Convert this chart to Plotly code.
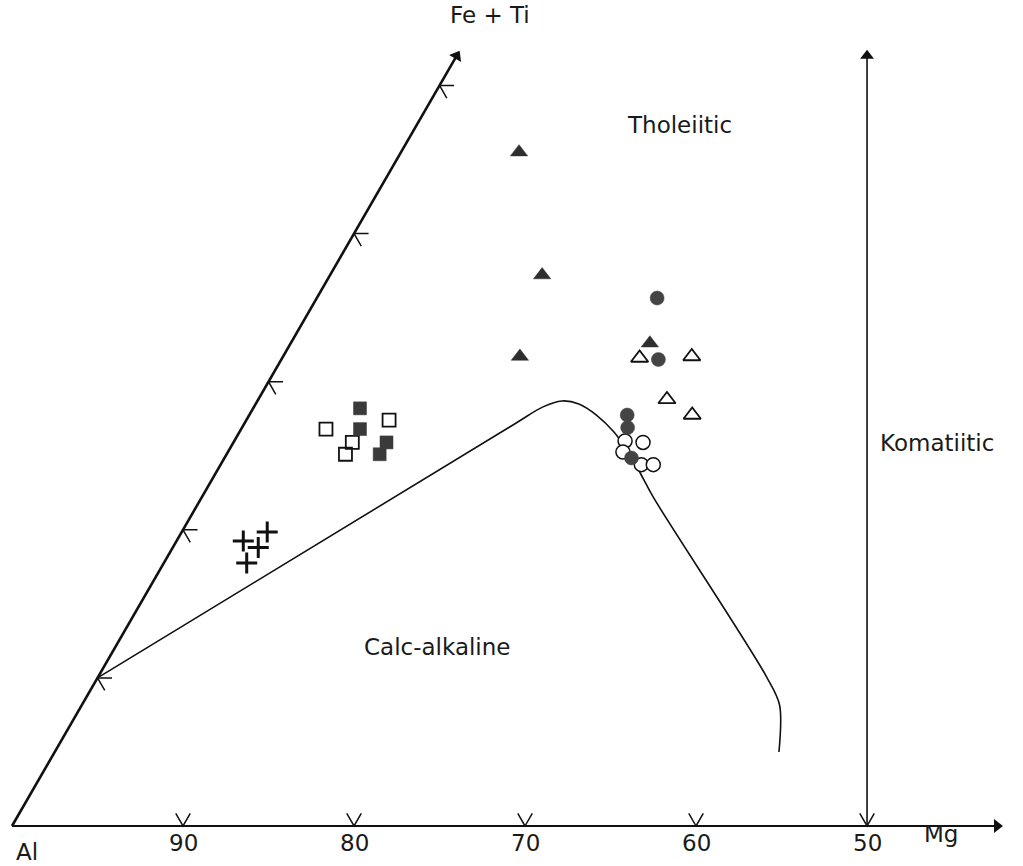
import numpy as np
import plotly.graph_objects as go

# ---- data (cation %, Al = 100 - FeTi - Mg) ----
curve_feti = [10.0, 27.13, 28.3, 28.7, 28.5, 27.75, 26.6, 25.3, 23.8, 22.2, 10.06, 8.17, 5.0]
curve_mg = [0.0, 15.8, 16.9, 17.8, 18.9, 20.3, 21.9, 23.35, 24.85, 26.4, 39.1, 40.8, 42.35]

tri_fill_feti = [45.5, 37.2, 31.7, 32.6]
tri_fill_mg = [6.9, 12.4, 13.85, 21.0]

tri_open_feti = [31.6, 31.7, 28.8, 27.75]
tri_open_mg = [20.9, 23.9, 23.9, 25.9]

circ_fill_feti = [35.65, 31.5, 27.75, 26.9, 24.85]
circ_fill_mg = [19.9, 22.05, 22.1, 22.55, 23.8]

circ_open_feti = [26.0, 25.9, 25.25, 24.4, 24.4]
circ_open_mg = [22.85, 23.95, 23.1, 24.6, 25.3]

sq_fill_feti = [28.2, 26.8, 25.9, 25.1]
sq_fill_mg = [6.25, 6.95, 8.95, 8.95]

sq_open_feti = [27.4, 26.8, 25.9, 25.1]
sq_open_mg = [8.35, 4.96, 6.95, 6.95]

cross_feti = [19.85, 19.25, 18.8, 17.75]
cross_mg = [5.0, 3.9, 5.0, 4.85]

base_ticks = [90, 80, 70, 60, 50]       # Al values on the Al-Mg side
side_ticks = [10, 20, 30, 40, 50]       # Fe+Ti values on the Al-(Fe+Ti) side

S3 = np.sqrt(3) / 2


def tern(feti, mg):
    feti = np.asarray(feti, float)
    mg = np.asarray(mg, float)
    return mg + feti / 2, feti * S3


fig = go.Figure()
INK = "#111111"


def line(x, y, w, color=INK, shape="linear", smoothing=None):
    kw = dict(x=list(x), y=list(y), mode="lines", hoverinfo="skip", showlegend=False,
              line=dict(color=color, width=w, shape=shape))
    if smoothing is not None:
        kw["line"]["smoothing"] = smoothing
    fig.add_trace(go.Scatter(**kw))


# left side Al -> Fe+Ti
lx, ly = tern([0, 52.0], [0, 0])
line(lx, ly, 2.6)
# base Al -> Mg
bx, by = tern([0, 0], [0, 57.6])
line(bx, by, 2.2)
# vertical (Al = Mg) line
vx, vy = tern([0, 52.0], [50, 24.0])
line(vx, vy, 1.6)

# arrow heads
ax, ay = tern([52.0, 0, 52.0], [0, 57.6, 24.0])
fig.add_trace(go.Scatter(x=list(ax), y=list(ay), mode="markers", hoverinfo="skip", showlegend=False,
                         marker=dict(symbol="triangle-up", size=12, color=INK, angle=[30, 90, 0],
                                     line=dict(width=0))))

# ticks
L = 0.85
for t in base_ticks:
    x0, y0 = tern(0, 100 - t)
    line([x0 - L * 0.5, x0, x0 + L * 0.5], [y0 + L * S3, y0, y0 + L * S3], 1.5)
for t in side_ticks:
    x0, y0 = tern(t, 0)
    line([x0 + L, x0, x0 + L * 0.5], [y0, y0, y0 - L * S3], 1.5)

# boundary curve
cx, cy = tern(curve_feti, curve_mg)
line(cx, cy, 1.6, shape="spline", smoothing=0.9)


def pts(feti, mg, symbol, color, size, lw, lcolor=INK):
    x, y = tern(feti, mg)
    fig.add_trace(go.Scatter(x=list(x), y=list(y), mode="markers", hoverinfo="skip", showlegend=False,
                             marker=dict(symbol=symbol, size=size, color=color,
                                         line=dict(width=lw, color=lcolor))))


pts(sq_open_feti, sq_open_mg, "square-open", INK, 13, 1.8)
pts(sq_fill_feti, sq_fill_mg, "square", "#3a3a3a", 13, 0.5, "#3a3a3a")
pts(cross_feti, cross_mg, "cross-thin-open", INK, 15, 3)
pts(tri_open_feti, tri_open_mg, "triangle-up-open", INK, 15, 1.8)
pts(tri_fill_feti, tri_fill_mg, "triangle-up", "#2e2e2e", 15, 0.5, "#2e2e2e")
pts(circ_open_feti, circ_open_mg, "circle", "white", 14, 1.5)
pts(circ_fill_feti, circ_fill_mg, "circle", "#444444", 14, 0.5, "#444444")

FONT = dict(family="DejaVu Sans, sans-serif", size=23, color="#1a1a1a")


def label(text, x, y, xanchor="center"):
    fig.add_annotation(x=x, y=y, xref="x", yref="y", text=text, showarrow=False,
                       font=FONT, xanchor=xanchor, yanchor="middle")


for t in base_ticks:
    x0, _ = tern(0, 100 - t)
    label(str(t), x0, -1.0)
label("Al", 0.9, -1.5)
label("Mg", 54.3, -0.45)
label("Fe + Ti", 27.95, 47.4)
label("Tholeiitic", 39.06, 41.0)
label("Komatiitic", 54.1, 22.4)
label("Calc-alkaline", 24.9, 10.47)

fig.update_layout(
    width=1023, height=866, margin=dict(l=0, r=0, t=0, b=0),
    paper_bgcolor="white", plot_bgcolor="white",
    xaxis=dict(range=[-0.702, 59.12], visible=False, fixedrange=True),
    yaxis=dict(range=[-2.339, 48.30], visible=False, fixedrange=True),
)

fig.write_html("out.html")
